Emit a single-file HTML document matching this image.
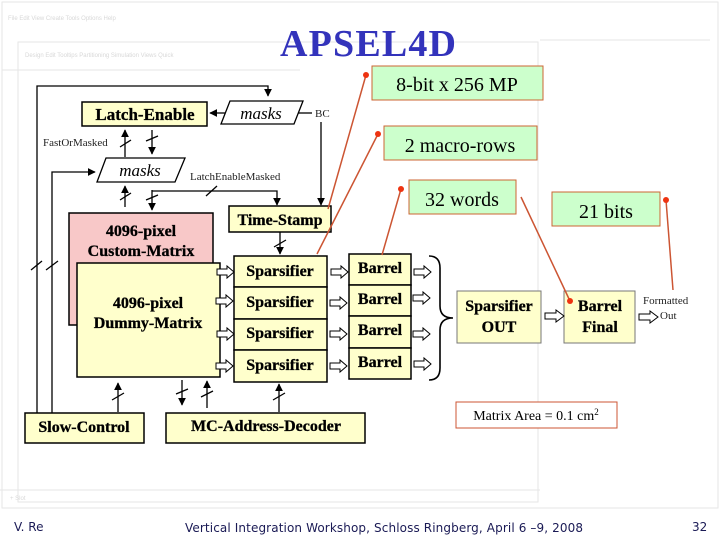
<!DOCTYPE html>
<html><head><meta charset="utf-8"><style>
html,body{margin:0;padding:0;background:#fff;}
svg{display:block;}
</style></head><body>
<svg width="720" height="540" viewBox="0 0 720 540" xmlns="http://www.w3.org/2000/svg">
<defs>
<marker id="ah" viewBox="0 0 10 10" refX="9" refY="5" markerWidth="6" markerHeight="6" orient="auto"><path d="M0,0 L10,5 L0,10 z" fill="#000"/></marker>
</defs>
<g stroke="#e6e6e6" fill="none">
<rect x="2" y="2" width="716" height="506"/>
<line x1="2" y1="70" x2="300" y2="70"/>
<rect x="18" y="42" width="520" height="460"/>
<line x1="0" y1="490" x2="540" y2="490"/>
<line x1="540" y1="40" x2="710" y2="40"/>
</g>
<g font-family="Liberation Sans, sans-serif" font-size="6" fill="#d8d8d8">
<text x="8" y="20">File  Edit  View  Create  Tools  Options  Help</text>
<text x="25" y="57">Design  Edit  Tooltips  Partitioning  Simulation  Views  Quick</text>
<text x="10" y="500">+ Slot</text>
</g>

<text x="368" y="56" text-anchor="middle" font-family="Liberation Serif, serif" font-weight="bold" font-size="38" fill="#3333bb" textLength="176">APSEL4D</text>

<g stroke="#000" stroke-width="1.3" fill="none">
<polyline points="37,413 37,86 268,86 268,96" marker-end="url(#ah)"/>
<polyline points="52,413 52,172 95,172" marker-end="url(#ah)"/>
<line x1="226" y1="113" x2="210" y2="113" marker-end="url(#ah)"/>
<line x1="297" y1="113" x2="312" y2="113"/>
<line x1="321" y1="122" x2="321" y2="205" marker-end="url(#ah)"/>
<line x1="125" y1="157" x2="125" y2="130" marker-end="url(#ah)"/>
<line x1="152" y1="130" x2="152" y2="154" marker-end="url(#ah)"/>
<line x1="125" y1="207" x2="125" y2="186" marker-end="url(#ah)"/>
<line x1="152" y1="190" x2="152" y2="210" marker-end="url(#ah)"/>
<polyline points="152,191 277,191 277,205" marker-end="url(#ah)"/>
<line x1="280" y1="232" x2="280" y2="254" marker-end="url(#ah)"/>
<line x1="118" y1="412" x2="118" y2="383" marker-end="url(#ah)"/>
<line x1="182" y1="380" x2="182" y2="405" marker-end="url(#ah)"/>
<line x1="207" y1="408" x2="207" y2="381" marker-end="url(#ah)"/>
<line x1="279" y1="412" x2="279" y2="384" marker-end="url(#ah)"/>
<line x1="120" y1="147" x2="131" y2="140"/>
<line x1="146" y1="141" x2="158" y2="136"/>
<line x1="120" y1="200" x2="131" y2="193"/>
<line x1="146" y1="200" x2="158" y2="195"/>
<line x1="206" y1="196" x2="217" y2="186"/>
<line x1="274" y1="247" x2="286" y2="240"/>
<line x1="31" y1="270" x2="42" y2="261"/>
<line x1="46" y1="270" x2="58" y2="261"/>
<line x1="112" y1="400" x2="124" y2="393"/>
<line x1="176" y1="394" x2="188" y2="389"/>
<line x1="201" y1="397" x2="213" y2="391"/>
<line x1="273" y1="400" x2="285" y2="393"/>
</g>

<polygon points="230,101 303,101 294,124 221,124" fill="#fff" stroke="#000" stroke-width="1.3"/>
<polygon points="106,158 185,158 175,182 97,182" fill="#fff" stroke="#000" stroke-width="1.3"/>

<g stroke="#000" stroke-width="1.5">
<rect x="82" y="102" width="125" height="24" fill="#ffffcc"/>
<rect x="229" y="206" width="102" height="26" fill="#ffffcc"/>
<rect x="69" y="213" width="144" height="112" fill="#f8c8c8"/>
<rect x="77" y="263" width="143" height="114" fill="#ffffcc"/>
<rect x="234" y="256" width="93" height="31" fill="#ffffcc"/>
<rect x="234" y="287" width="93" height="32" fill="#ffffcc"/>
<rect x="234" y="319" width="93" height="31" fill="#ffffcc"/>
<rect x="234" y="350" width="93" height="32" fill="#ffffcc"/>
<rect x="349" y="254" width="62" height="31" fill="#ffffcc"/>
<rect x="349" y="285" width="62" height="31" fill="#ffffcc"/>
<rect x="349" y="316" width="62" height="32" fill="#ffffcc"/>
<rect x="349" y="348" width="62" height="31" fill="#ffffcc"/>
<rect x="25" y="413" width="119" height="30" fill="#ffffcc"/>
<rect x="166" y="413" width="199" height="30" fill="#ffffcc"/>
</g>
<g stroke="#777" stroke-width="1">
<rect x="457" y="291" width="84" height="52" fill="#ffffcc"/>
<rect x="564" y="291" width="71" height="52" fill="#ffffcc"/>
</g>

<g fill="#fff" stroke="#000" stroke-width="1">
<path d="M0,-3 L10,-3 L10,-6 L17,0 L10,6 L10,3 L0,3 z" transform="translate(217,272)"/>
<path d="M0,-3 L10,-3 L10,-6 L17,0 L10,6 L10,3 L0,3 z" transform="translate(216,301)"/>
<path d="M0,-3 L10,-3 L10,-6 L17,0 L10,6 L10,3 L0,3 z" transform="translate(217,334)"/>
<path d="M0,-3 L10,-3 L10,-6 L17,0 L10,6 L10,3 L0,3 z" transform="translate(216,366)"/>
<path d="M0,-3 L10,-3 L10,-6 L17,0 L10,6 L10,3 L0,3 z" transform="translate(331,272)"/>
<path d="M0,-3 L10,-3 L10,-6 L17,0 L10,6 L10,3 L0,3 z" transform="translate(330,303)"/>
<path d="M0,-3 L10,-3 L10,-6 L17,0 L10,6 L10,3 L0,3 z" transform="translate(330,334)"/>
<path d="M0,-3 L10,-3 L10,-6 L17,0 L10,6 L10,3 L0,3 z" transform="translate(330,366)"/>
<path d="M0,-3 L10,-3 L10,-6 L17,0 L10,6 L10,3 L0,3 z" transform="translate(414,272)"/>
<path d="M0,-3 L10,-3 L10,-6 L17,0 L10,6 L10,3 L0,3 z" transform="translate(413,298)"/>
<path d="M0,-3 L10,-3 L10,-6 L17,0 L10,6 L10,3 L0,3 z" transform="translate(413,334)"/>
<path d="M0,-3 L10,-3 L10,-6 L17,0 L10,6 L10,3 L0,3 z" transform="translate(414,364)"/>
<path d="M0,-3 L11,-3 L11,-6 L19,0 L11,6 L11,3 L0,3 z" transform="translate(545,316)"/>
<path d="M0,-3 L11,-3 L11,-6 L19,0 L11,6 L11,3 L0,3 z" transform="translate(639,317)"/>
</g>
<path d="M429,256 Q440,256 440,268 L440,306 Q440,318 453,318 Q440,318 440,330 L440,368 Q440,380 429,380" fill="none" stroke="#000" stroke-width="1.6"/>

<g font-family="Liberation Serif, serif" font-weight="bold" fill="#000" text-anchor="middle" stroke="#000" stroke-width="0.3">
<text x="145" y="120" font-size="17">Latch-Enable</text>
<text x="280" y="225" font-size="16">Time-Stamp</text>
<text x="141" y="236" font-size="16">4096-pixel</text>
<text x="141" y="256" font-size="16">Custom-Matrix</text>
<text x="148" y="308" font-size="16">4096-pixel</text>
<text x="148" y="328" font-size="16">Dummy-Matrix</text>
<text x="280" y="276" font-size="16">Sparsifier</text>
<text x="280" y="307" font-size="16">Sparsifier</text>
<text x="280" y="338" font-size="16">Sparsifier</text>
<text x="280" y="370" font-size="16">Sparsifier</text>
<text x="380" y="273" font-size="16">Barrel</text>
<text x="380" y="304" font-size="16">Barrel</text>
<text x="380" y="335" font-size="16">Barrel</text>
<text x="380" y="367" font-size="16">Barrel</text>
<text x="499" y="311" font-size="16">Sparsifier</text>
<text x="499" y="332" font-size="16">OUT</text>
<text x="600" y="311" font-size="16">Barrel</text>
<text x="600" y="332" font-size="16">Final</text>
<text x="84" y="432" font-size="16">Slow-Control</text>
<text x="266" y="431" font-size="16">MC-Address-Decoder</text>
</g>
<g font-family="Liberation Serif, serif" font-style="italic" font-size="17" text-anchor="middle">
<text x="261" y="119">masks</text>
<text x="140" y="176">masks</text>
</g>
<g font-family="Liberation Serif, serif" font-size="11" fill="#222">
<text x="315" y="117">BC</text>
<text x="43" y="146">FastOrMasked</text>
<text x="190" y="180">LatchEnableMasked</text>
<text x="643" y="304">Formatted</text>
<text x="660" y="319">Out</text>
</g>

<g stroke="#cc5533" stroke-width="1.5" fill="none">
<line x1="366" y1="75" x2="328" y2="209"/>
<line x1="378" y1="134" x2="317" y2="254"/>
<line x1="401" y1="189" x2="382" y2="255"/>
<line x1="521" y1="197" x2="570" y2="301"/>
<line x1="666" y1="200" x2="673" y2="290"/>
</g>
<g fill="#ee3311">
<circle cx="366" cy="75" r="3"/>
<circle cx="378" cy="134" r="3"/>
<circle cx="401" cy="189" r="3"/>
<circle cx="570" cy="301" r="3"/>
<circle cx="666" cy="200" r="3"/>
</g>
<g fill="#ccffcc" stroke="#cc6633" stroke-width="1">
<rect x="372" y="66" width="171" height="34"/>
<rect x="384" y="126" width="153" height="34"/>
<rect x="409" y="180" width="107" height="34"/>
<rect x="552" y="192" width="108" height="34"/>
</g>
<rect x="456" y="402" width="161" height="26" fill="#fff" stroke="#cc5533" stroke-width="1"/>
<g font-family="Liberation Serif, serif" font-size="20" fill="#000" text-anchor="middle">
<text x="457" y="91">8-bit x 256 MP</text>
<text x="460" y="152">2 macro-rows</text>
<text x="462" y="206">32 words</text>
<text x="606" y="218">21 bits</text>
</g>
<text x="536" y="420" text-anchor="middle" font-family="Liberation Serif, serif" font-size="14">Matrix Area = 0.1 cm<tspan dy="-5" font-size="9">2</tspan></text>

<g font-family="DejaVu Sans, sans-serif" font-size="12" fill="#1a1a55">
<text x="14" y="531">V. Re</text>
<text x="185" y="532" textLength="398">Vertical Integration Workshop, Schloss Ringberg, April 6 –9, 2008</text>
<text x="692" y="531">32</text>
</g>
</svg>
</body></html>
